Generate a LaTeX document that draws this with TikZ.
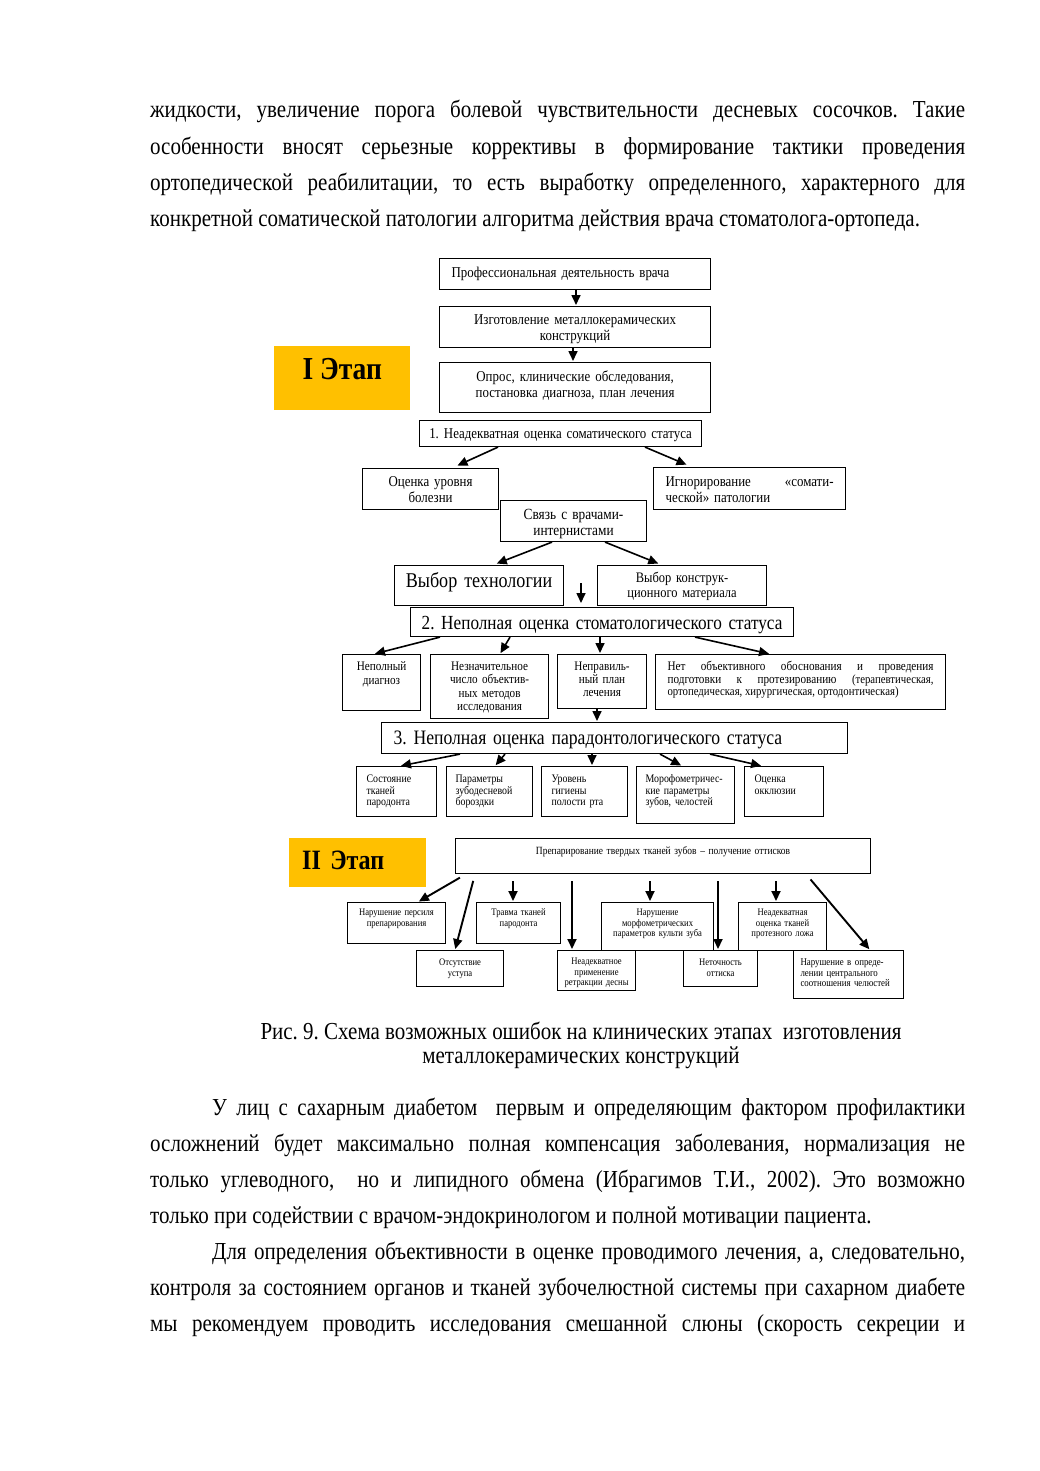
\documentclass[tikz,border=0pt]{standalone}
\usepackage{fontspec}
\setmainfont{Liberation Serif}[FakeStretch=0.86]
\usetikzlibrary{arrows.meta}
\newcommand{\fsz}[2]{\fontsize{#1}{#2}\selectfont}
\definecolor{etapyellow}{HTML}{FFC000}
\frenchspacing

\begin{document}
\begin{tikzpicture}[x=1pt,y=-1pt,>={Triangle[length=10pt,width=9pt]},shorten >=1pt,
  cell/.style 2 args={draw,line width=1.1pt,anchor=north west,inner ysep=0pt,
    text height=#1,text depth=#2},
  etap/.style={fill=etapyellow,anchor=north west,inner sep=0pt},
  link/.style={->,line width=1.6pt},
  link2/.style={->,line width=1.9pt,shorten <=7pt},
  bodytext/.style={anchor=base west,inner sep=0pt,text width=815pt,align=justify,
    font=\fsz{24.4}{36.3}}]

\useasboundingbox[fill=white] (0,0) rectangle (1039,1471);

% text above the figure
\node[bodytext] (par1) at (150,118) {жидкости, увеличение порога болевой чувствительности десневых сосочков. Такие\linebreak особенности вносят серьезные коррективы в формирование тактики проведения\linebreak ортопедической реабилитации, то есть выработку определенного, характерного для\linebreak конкретной соматической патологии алгоритма действия врача стоматолога-ортопеда.};

% stage I
\node[etap, minimum width=136pt, text height=33pt, text depth=31pt, font=\fsz{32}{34}\bfseries] (etap1) at (274,346) {I Этап};
\node[cell={18.5pt}{12.5pt}, text width=247pt, inner xsep=12pt, align=left, font=\fsz{15}{16}] (prof) at (439,258) {Профессиональная деятельность врача};
\node[cell={17.5pt}{23.5pt}, text width=259pt, inner xsep=6pt, align=center, font=\fsz{15}{16}] (izg) at (439,306) {Изготовление металлокерамических\\конструкций};
\node[cell={18.5pt}{31.5pt}, text width=259pt, inner xsep=6pt, align=center, font=\fsz{15}{16}] (opros) at (439,362) {Опрос, клинические обследования,\\постановка диагноза, план лечения};
\node[cell={17.5pt}{8.5pt}, text width=274pt, inner xsep=4pt, align=center, font=\fsz{15}{16}] (neadek) at (419,420) {1. Неадекватная оценка соматического статуса};
\node[cell={17.5pt}{23.5pt}, text width=128pt, inner xsep=4pt, align=center, font=\fsz{15}{16}] (urov) at (362,468) {Оценка уровня\\болезни};
\node[cell={18.5pt}{23.5pt}, text width=168pt, inner xsep=12pt, align=left, font=\fsz{15}{16}] (ignor) at (653,467) {Игнорирование\hfill«сомати-\\ческой» патологии};
\node[cell={19pt}{22pt}, text width=138pt, inner xsep=4pt, align=center, font=\fsz{15.5}{16}] (svyaz) at (500,500) {Связь с врачами-\\интернистами};
\node[cell={22pt}{18pt}, text width=161pt, inner xsep=4pt, align=center, font=\fsz{21}{22}] (tehn) at (394,565) {Выбор технологии};
\node[cell={17pt}{23pt}, text width=161pt, inner xsep=4pt, align=center, font=\fsz{14.5}{15}] (konstr) at (597,565) {Выбор конструк-\\ционного материала};
\coordinate (mid) at (581,583);
\node[cell={22pt}{7pt}, text width=375pt, inner xsep=4pt, align=center, font=\fsz{20}{22}] (stom) at (410,607) {2. Неполная оценка стоматологического статуса};

\node[cell={16pt}{40pt}, text width=70pt, inner xsep=4pt, align=center, font=\fsz{13}{14}] (nepoln) at (342,654) {Неполный\\диагноз};
\node[cell={16pt}{48pt}, text width=110pt, inner xsep=4pt, align=center, font=\fsz{13}{13.3}] (neznach) at (430,654) {Незначительное\\число объектив-\\ных методов\\исследования};
\node[cell={16pt}{38pt}, text width=81pt, inner xsep=4pt, align=center, font=\fsz{13}{13}] (neprav) at (557,654) {Неправиль-\\ный план\\лечения};
\node[cell={16pt}{39pt}, text width=266pt, inner xsep=12pt, align=justify, font=\fsz{13}{12.5}] (net) at (655,654) {Нет объективного обоснования и проведения\linebreak подготовки к протезированию {\fsz{12.5}{12.5}(терапевтическая,\linebreak ортопедическая, хирургическая, ортодонтическая)}};

\node[cell={22pt}{9pt}, text width=442pt, inner xsep=12pt, align=left, font=\fsz{20.5}{22}] (par) at (381,722) {3. Неполная оценка парадонтологического статуса};

\node[cell={16pt}{34pt}, text width=60pt, inner xsep=10pt, align=left, font=\fsz{11.5}{11.7}] (sost) at (356,766) {Состояние\\тканей\\пародонта};
\node[cell={16pt}{34pt}, text width=68pt, inner xsep=9pt, align=left, font=\fsz{11.5}{11.7}] (param) at (446,766) {Параметры\\зубодесневой\\бороздки};
\node[cell={16pt}{34pt}, text width=66pt, inner xsep=10pt, align=left, font=\fsz{11.5}{11.7}] (uroven) at (541,766) {Уровень\\гигиены\\полости рта};
\node[cell={16pt}{41pt}, text width=80pt, inner xsep=9pt, align=left, font=\fsz{11.5}{11.7}] (morf) at (636,766) {Морофометричес-\\кие параметры\\зубов, челостей};
\node[cell={16pt}{34pt}, text width=59pt, inner xsep=10pt, align=left, font=\fsz{11.5}{11.7}] (okkl) at (744,766) {Оценка\\окклюзии};

% stage II
\node[etap, text width=111pt, inner xsep=13pt, align=left, text height=31.5pt, text depth=17.5pt, font=\fsz{28}{30}\bfseries] (etap2) at (289,838) {II Этап};
\node[cell={15.5pt}{19.5pt}, text width=407pt, inner xsep=4pt, align=center, font=\fsz{11}{12}] (prep) at (455,838) {Препарирование твердых тканей зубов – получение оттисков};

\node[cell={13pt}{28pt}, text width=92pt, inner xsep=3pt, align=center, font=\fsz{10}{10.7}] (nar1) at (347,902) {Нарушение персиля\\препарирования};
\node[cell={13pt}{28pt}, text width=78pt, inner xsep=3pt, align=center, font=\fsz{10}{10.7}] (travma) at (476,902) {Травма тканей\\пародонта};
\node[cell={13pt}{35pt}, text width=106pt, inner xsep=3pt, align=center, font=\fsz{10}{10.7}] (narm) at (601,902) {Нарушение\\морфометрических\\параметров культи зуба};
\node[cell={13pt}{35pt}, text width=82pt, inner xsep=3pt, align=center, font=\fsz{10}{10.7}] (neadl) at (738,902) {Неадекватная\\оценка тканей\\протезного ложа};
\node[cell={15pt}{21pt}, text width=81pt, inner xsep=3pt, align=center, font=\fsz{10}{10.7}] (otsut) at (416,950) {Отсутствие\\уступа};
\node[cell={14pt}{26pt}, text width=72pt, inner xsep=3pt, align=center, font=\fsz{10}{10.7}] (retr) at (557,950) {Неадекватное\\применение\\ретракции десны};
\node[cell={15pt}{21pt}, text width=68pt, inner xsep=3pt, align=center, font=\fsz{10}{10.7}] (netoch) at (683,950) {Неточность\\оттиска};
\node[cell={15pt}{33pt}, text width=96pt, inner xsep=7pt, align=left, font=\fsz{10.3}{10.7}] (narc) at (793,950) {Нарушение в опреде-\\лении центрального\\соотношения челюстей};

% arrows, stage I
\draw[link] (prof.south -| 576,0) -- (izg.north -| 576,0);
\draw[link] (izg.south -| 573,0) -- (opros.north -| 573,0);
\draw[link, shorten >=6pt] (neadek.south -| 498,0) -- (urov.north -| 452,0);
\draw[link, shorten >=6pt] (neadek.south -| 645,0) -- (ignor.north -| 692,0);
\draw[link, shorten >=4pt] (svyaz.south -| 552,0) -- (tehn.north -| 493,0);
\draw[link, shorten >=4pt] (svyaz.south -| 605,0) -- (konstr.north -| 662,0);
\draw[link, shorten >=4pt] (mid) -- (stom.north -| mid);
\draw[link] (stom.south -| 440,0) -- (nepoln.north -| 374,0);
\draw[link] (stom.south -| 510,0) -- (neznach.north -| 500,0);
\draw[link] (stom.south -| 600,0) -- (neprav.north -| 600,0);
\draw[link] (stom.south -| 695,0) -- (net.north -| 770,0);
\draw[link] (neprav.south -| 597,0) -- (par.north -| 597,0);
\draw[link] (par.south -| 460,0) -- (sost.north -| 400,0);
\draw[link] (par.south -| 505,0) -- (param.north -| 495,0);
\draw[link] (par.south -| 592,0) -- (uroven.north -| 592,0);
\draw[link] (par.south -| 660,0) -- (morf.north -| 682,0);
\draw[link] (par.south -| 710,0) -- (okkl.north -| 762,0);

% arrows, stage II
\draw[link2] (prep.south -| 466,0) -- (nar1.north -| 418,0);
\draw[link2] (prep.south -| 475,0) -- (otsut.north -| 455,0);
\draw[link2] (prep.south -| 513,0) -- (travma.north -| 513,0);
\draw[link2] (prep.south -| 572,0) -- (retr.north -| 572,0);
\draw[link2] (prep.south -| 650,0) -- (narm.north -| 650,0);
\draw[link2] (prep.south -| 718,0) -- (netoch.north -| 718,0);
\draw[link2] (prep.south -| 776,0) -- (neadl.north -| 776,0);
\draw[link2] (prep.south -| 806,0) -- (narc.north -| 870,0);

% caption and text below
\node[anchor=base, inner sep=0pt, align=center, font=\fsz{24.4}{24}] (cap) at (581,1063) {Рис. 9. Схема возможных ошибок на клинических этапах\ \ изготовления\\металлокерамических конструкций};
\node[bodytext] (par2) at (150,1115) {\hspace*{62pt}У лиц с сахарным диабетом\ \ первым и определяющим фактором профилактики\linebreak осложнений будет максимально полная компенсация заболевания, нормализация не\linebreak только углеводного,\ \ но и липидного обмена (Ибрагимов Т.И., 2002). Это возможно\linebreak только при содействии с врачом-эндокринологом и полной мотивации пациента.};
\node[bodytext] (par3) at (150,1259) {\hspace*{62pt}Для определения объективности в оценке проводимого лечения, а, следовательно,\linebreak контроля за состоянием органов и тканей зубочелюстной системы при сахарном диабете\linebreak мы рекомендуем проводить исследования смешанной слюны (скорость секреции и\linebreak\mbox{}};
\end{tikzpicture}
\end{document}
